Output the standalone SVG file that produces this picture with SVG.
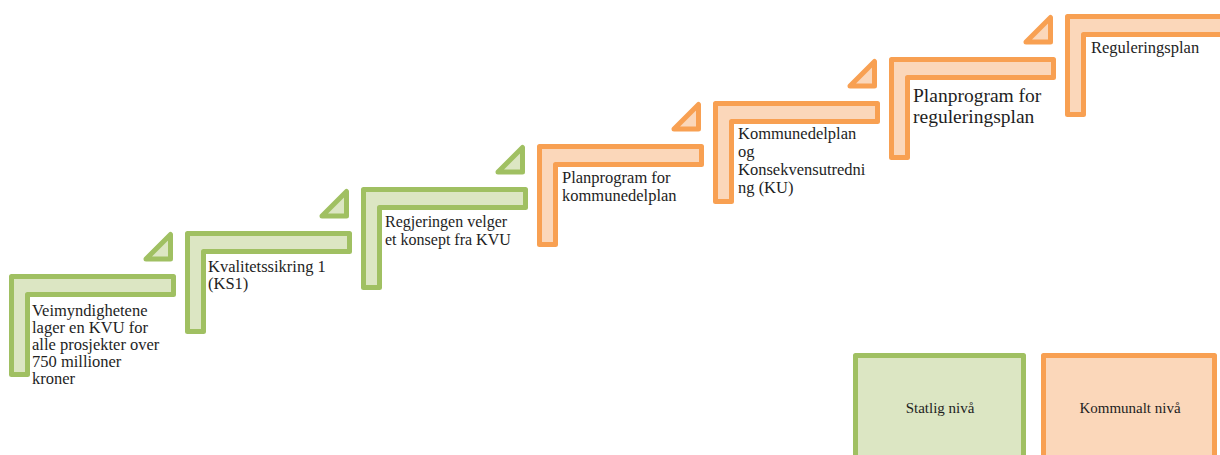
<svg xmlns="http://www.w3.org/2000/svg" width="1220" height="455" viewBox="0 0 1220 455">
<style>
  .g { fill: #DCE6C3; stroke: #A0C062; stroke-width: 5; stroke-linejoin: round; }
  .o { fill: #FBD7BA; stroke: #F8A052; stroke-width: 5; stroke-linejoin: round; }
  .t { font-family: "Liberation Serif", "Times New Roman", serif; font-size: 16.5px; fill: #1e1e1e; }
  .lg { font-family: "Liberation Serif", "Times New Roman", serif; font-size: 15px; fill: #1e1e1e; text-anchor: middle; }
</style>
<defs>
  <path id="step" d="M2.5,2.5 H164.5 V20.5 H18.5 V100.5 H2.5 Z"/>
  <path id="tri" d="M161.5,-39.5 V-15 H137 Z"/>
</defs>
<rect width="1220" height="455" fill="#ffffff"/>
<g id="connectors"></g>

<g id="step1" transform="translate(9,274)">
  <use href="#step" class="g"/>
  <use href="#tri" class="g"/>
  <text class="t" x="23" y="41.5">Veimyndighetene</text>
  <text class="t" x="23" y="58.5">lager en KVU for</text>
  <text class="t" x="23" y="76">alle prosjekter over</text>
  <text class="t" x="23" y="93">750 millioner</text>
  <text class="t" x="23" y="110">kroner</text>
</g>

<g id="step2" transform="translate(185,231)">
  <use href="#step" class="g"/>
  <use href="#tri" class="g"/>
  <text class="t" x="23" y="41">Kvalitetssikring 1</text>
  <text class="t" x="23" y="58">(KS1)</text>
</g>

<g id="step3" transform="translate(361,187)">
  <use href="#step" class="g"/>
  <use href="#tri" class="g"/>
  <text class="t" x="24" y="40" style="font-size:16px">Regjeringen velger</text>
  <text class="t" x="24" y="58" style="font-size:16px">et konsept fra KVU</text>
</g>

<g id="step4" transform="translate(537,144)">
  <use href="#step" class="o"/>
  <use href="#tri" class="o"/>
  <text class="t" x="25" y="39">Planprogram for</text>
  <text class="t" x="25" y="56.5">kommunedelplan</text>
</g>

<g id="step5" transform="translate(713,101)">
  <use href="#step" class="o"/>
  <use href="#tri" class="o"/>
  <text class="t" x="25" y="37.5">Kommunedelplan</text>
  <text class="t" x="25" y="55.5">og</text>
  <text class="t" x="25" y="73.5">Konsekvensutredni</text>
  <text class="t" x="25" y="91.5">ng (KU)</text>
</g>

<g id="step6" transform="translate(889,57)">
  <use href="#step" class="o"/>
  <use href="#tri" class="o"/>
  <text class="t" x="24" y="44.5" style="font-size:19.5px">Planprogram for</text>
  <text class="t" x="24" y="66" style="font-size:19.5px">reguleringsplan</text>
</g>

<g id="step7" transform="translate(1065,14)">
  <use href="#step" class="o"/>
  <text class="t" x="26" y="39">Reguleringsplan</text>
</g>

<g id="legend-statlig">
  <rect x="855.5" y="355.5" width="168" height="125" class="g"/>
  <text class="lg" x="940" y="413">Statlig nivå</text>
</g>
<g id="legend-kommunalt">
  <rect x="1043.5" y="355.5" width="171" height="125" class="o"/>
  <text class="lg" x="1130" y="413">Kommunalt nivå</text>
</g>
</svg>
